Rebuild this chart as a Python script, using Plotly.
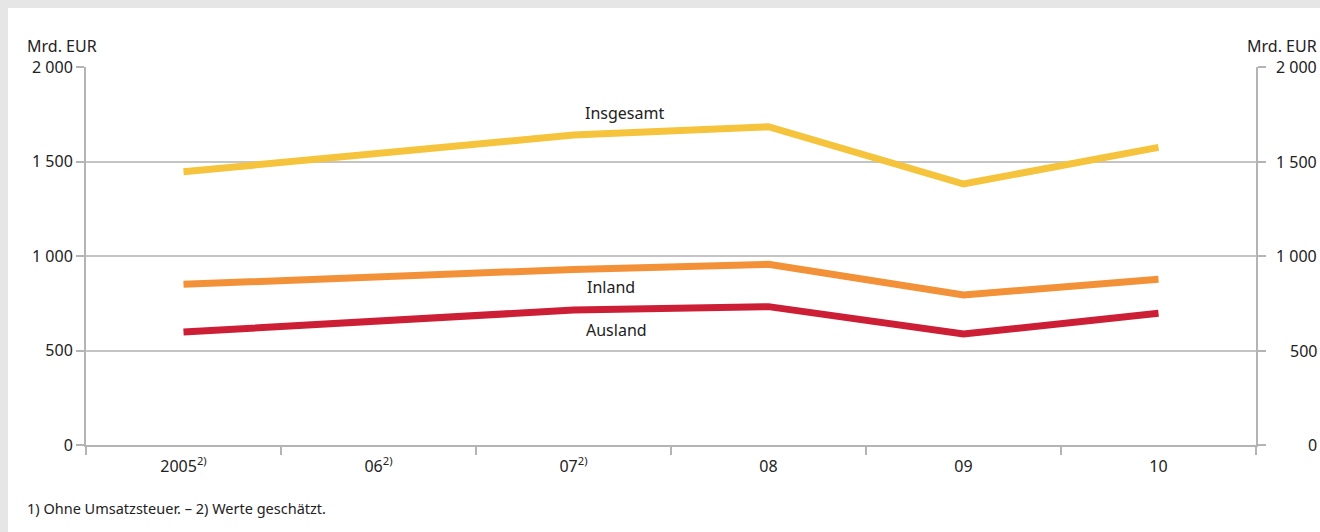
import plotly.graph_objects as go

categories = ["2005", "06", "07", "08", "09", "10"]
tick_labels = ["2005<sup>2)</sup>", "06<sup>2)</sup>", "07<sup>2)</sup>", "08", "09", "10"]
insgesamt = [1446, 1543, 1640, 1684, 1381, 1575]
inland = [850, 890, 929, 956, 794, 877]
ausland = [598, 658, 714, 732, 587, 697]
y_ticks = [0, 500, 1000, 1500, 2000]
y_tick_labels = ["0", "500", "1 000", "1 500", "2 000"]

series_names = ["Insgesamt", "Inland", "Ausland"]
series_values = [insgesamt, inland, ausland]
series_colors = ["#f5c43c", "#f39139", "#cc1f36"]
# label positions (category index offset, value)
label_pos = [(2.26, 1757), (2.19, 836), (2.22, 608)]

FONT = "Noto Sans"
W, H = 1320, 532
L, R, T, B = 86, 64, 67, 87
pw, ph = W - L - R, H - T - B

def px_x(p):
    return (p - L) / pw

def px_y(p):
    return (H - B - p) / ph

fig = go.Figure()
for name, vals, col in zip(series_names, series_values, series_colors):
    fig.add_trace(go.Scatter(x=categories, y=vals, mode="lines", name=name,
                             line=dict(color=col, width=7), showlegend=False,
                             hoverinfo="skip"))

annotations = []
for name, (xi, yv) in zip(series_names, label_pos):
    annotations.append(dict(x=xi, y=yv, xref="x", yref="y", text=name, showarrow=False,
                            font=dict(family=FONT, size=16, color="#222222")))
for v, t in zip(y_ticks, y_tick_labels):
    annotations.append(dict(x=px_x(1319), y=v, xref="paper", yref="y", text=t,
                            showarrow=False, xanchor="right", yanchor="middle",
                            font=dict(family=FONT, size=16, color="#222222")))
annotations.append(dict(x=px_x(25), y=px_y(46), xref="paper", yref="paper", text="Mrd. EUR",
                        showarrow=False, xanchor="left", yanchor="middle",
                        font=dict(family=FONT, size=16, color="#222222")))
annotations.append(dict(x=px_x(1319), y=px_y(46), xref="paper", yref="paper", text="Mrd. EUR",
                        showarrow=False, xanchor="right", yanchor="middle",
                        font=dict(family=FONT, size=16, color="#222222")))
annotations.append(dict(x=px_x(25), y=px_y(508), xref="paper", yref="paper",
                        text="1) Ohne Umsatzsteuer. – 2) Werte geschätzt.",
                        showarrow=False, xanchor="left", yanchor="middle",
                        font=dict(family=FONT, size=14.5, color="#222222")))

shapes = [dict(type="rect", xref="paper", yref="paper", x0=px_x(8), x1=px_x(1330),
               y0=px_y(8), y1=px_y(540), fillcolor="white", line=dict(width=0), layer="below")]

fig.update_layout(
    width=W, height=H,
    margin=dict(l=L, r=R, t=T, b=B),
    paper_bgcolor="#e6e6e6", plot_bgcolor="white",
    font=dict(family=FONT, size=16, color="#222222"),
    annotations=annotations, shapes=shapes,
    xaxis=dict(type="category", range=[-0.5, 5.5], tickmode="array", tickvals=categories,
               ticktext=tick_labels, tickson="boundaries", ticks="outside", ticklen=8,
               tickcolor="#b4b4b4", tickwidth=1.5, showline=True, linecolor="#b4b4b4",
               linewidth=2, showgrid=False, zeroline=False, ticklabelstandoff=6,
               tickfont=dict(family=FONT, size=16, color="#222222")),
    yaxis=dict(range=[0, 2000], tickmode="array", tickvals=y_ticks, ticktext=y_tick_labels,
               ticks="outside", ticklen=8, tickcolor="#b4b4b4", tickwidth=1.5,
               showline=True, linecolor="#b4b4b4", linewidth=2, mirror="ticks",
               showgrid=True, gridcolor="#c4c4c4", gridwidth=1.5, zeroline=False,
               tickfont=dict(family=FONT, size=16, color="#222222")),
)

fig.write_html("out.html", config={"displayModeBar": False},
               post_script="document.body.style.margin='0px';")
